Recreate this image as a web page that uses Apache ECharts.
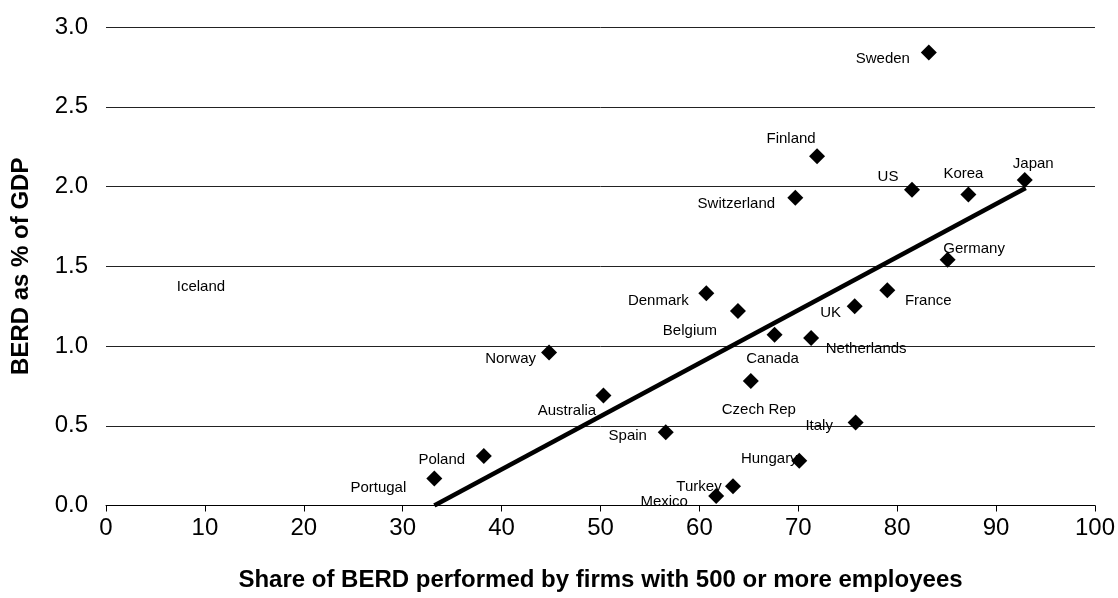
<!DOCTYPE html>
<html>
<head>
<meta charset="utf-8">
<script src="https://cdn.jsdelivr.net/npm/echarts@6/dist/echarts.min.js"></script>
<style>
html,body{margin:0;padding:0;background:#fff;}
#chart{width:1118px;height:598px;}
</style>
</head>
<body>
<div id="chart"></div>
<script>
// ---- data ----
const countries = ["Sweden","Finland","US","Korea","Japan","Switzerland","Germany","France","UK","Denmark","Belgium","Canada","Netherlands","Norway","Australia","Spain","Poland","Portugal","Czech Rep","Italy","Hungary","Turkey","Mexico"];
const shareLarge = [83.2,71.9,81.5,87.2,92.9,69.7,85.1,79.0,75.7,60.7,63.9,67.6,71.3,44.8,50.3,56.6,38.2,33.2,65.2,75.8,70.1,63.4,61.7];
const berdGdp    = [2.84,2.19,1.98,1.95,2.04,1.93,1.54,1.35,1.25,1.33,1.22,1.07,1.05,0.96,0.69,0.46,0.31,0.17,0.78,0.52,0.28,0.12,0.06];
// Iceland: label only (no marker shown in the original)
const icelandName = "Iceland";
const icelandX = 9.6;
const icelandY = 1.37;
// trend line
const trendX = [33.2, 93.0];
const trendY = [0, 1.99];
// axis ticks
const xMin = 0, xMax = 100, xStep = 10;
const yMin = 0, yMax = 3, yStep = 0.5;
// label offsets (pixels, relative to marker centre)
const labelOffsets = [[-46,6],[-26,-17],[-24,-13],[-5,-21],[8.5,-16],[-59,6],[26.5,-11],[41,11],[-24,7],[-48,7],[-48,20],[-2,24],[55,11],[-38.5,6],[-36.5,15],[-38,4],[-42,4],[-56,9],[8,29],[-36.5,3],[-30,-2],[-34,0.7],[-52,6]];

const FONT = "'Liberation Sans', Arial, sans-serif";

const pts = countries.map((c,i)=>({
  name: c,
  value: [shareLarge[i], berdGdp[i]],
  label: {offset: labelOffsets[i]}
}));

const chart = echarts.init(document.getElementById('chart'), null, {renderer:'canvas'});
chart.setOption({
  animation: false,
  backgroundColor: '#fff',
  grid: {left:106, right:23, top:27, bottom:92.5, containLabel:false},
  xAxis: {
    type:'value', min:xMin, max:xMax, interval:xStep,
    name:'Share of BERD performed by firms with 500 or more employees',
    nameLocation:'middle', nameGap:63,
    nameTextStyle:{fontFamily:FONT, fontWeight:'bold', fontSize:24, color:'#000'},
    axisLine:{show:true, lineStyle:{color:'#000', width:1}},
    axisTick:{show:true, inside:false, length:6, lineStyle:{color:'#000'}},
    axisLabel:{fontFamily:FONT, fontSize:24, color:'#000', margin:11},
    splitLine:{show:false}
  },
  yAxis: {
    type:'value', min:yMin, max:yMax, interval:yStep,
    name:'BERD as % of GDP',
    nameLocation:'middle', nameGap:73, nameRotate:90,
    nameTextStyle:{fontFamily:FONT, fontWeight:'bold', fontSize:24, color:'#000'},
    axisLine:{show:false},
    axisTick:{show:false},
    axisLabel:{fontFamily:FONT, fontSize:24, color:'#000', margin:18, formatter:v=>v.toFixed(1)},
    splitLine:{show:true, lineStyle:{color:'#222', width:1}}
  },
  series: [
    {
      type:'line',
      data: trendX.map((x,i)=>[x, trendY[i]]),
      showSymbol:false, symbol:'none',
      lineStyle:{color:'#000', width:4.5},
      z:3, silent:true
    },
    {
      type:'scatter',
      data: pts,
      symbol:'diamond', symbolSize:[16,16],
      itemStyle:{color:'#000', opacity:1},
      label:{show:true, position:'inside', formatter:p=>p.name,
        fontFamily:FONT, fontSize:15, color:'#000', align:'center', verticalAlign:'middle'},
      z:4
    },
    {
      type:'scatter',
      data:[{name:icelandName, value:[icelandX, icelandY]}],
      symbol:'circle', symbolSize:2,
      itemStyle:{color:'#fff', opacity:1},
      label:{show:true, position:'inside', formatter:p=>p.name,
        fontFamily:FONT, fontSize:15, color:'#000', align:'center', verticalAlign:'middle'},
      z:4
    }
  ]
});
</script>
</body>
</html>
